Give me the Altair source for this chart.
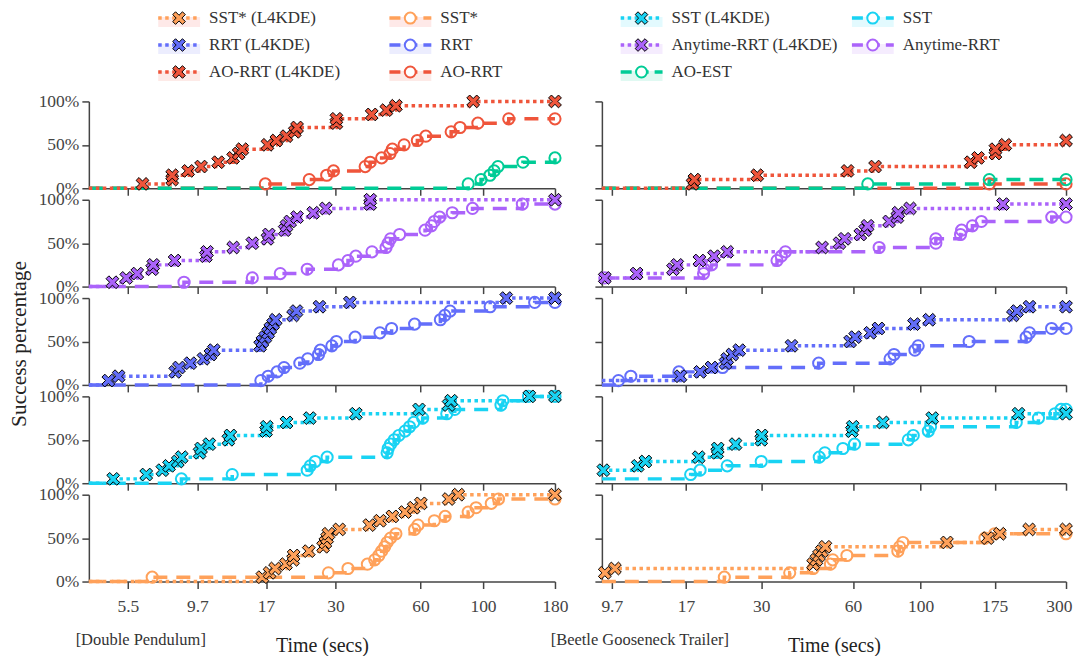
import altair as alt
import pandas as pd

# ---------------- data (values in %, times in seconds) ----------------
LEFT_DOMAIN = [4, 180]
RIGHT_DOMAIN = [9, 300]
LEFT_TICKS = [5.5, 9.7, 17, 30, 60, 100, 180]
RIGHT_TICKS = [9.7, 17, 30, 60, 100, 175, 300]
Y_TICKS = [0, 50, 100]

STEP20 = [5, 10, 15, 20, 25, 30, 35, 40, 45, 50, 55, 60, 65, 70, 75, 80, 85, 90, 95, 100]

# Double Pendulum (left column)
DP_AORRT_L4_T = [6.2, 7.9, 7.9, 9.0, 10.0, 11.5, 13.0, 13.6, 14.0, 17.2, 18.5, 20.1, 21.5, 21.9, 30.2, 30.2, 40.3, 45.4, 49.1, 92.3, 180]
DP_AORRT_L4_V = STEP20 + [100]
DP_AORRT_T = [16.9, 24.2, 27.9, 29.5, 38.2, 39.8, 43.7, 46.8, 47.7, 52.5, 58.5, 62.7, 77.1, 82.9, 95.9, 123.4, 180]
DP_AORRT_V = [5, 10, 15, 20, 25, 30, 35, 40, 45, 50, 55, 60, 65, 70, 75, 80, 80]
DP_AOEST_T = [88.6, 98.4, 105.8, 109.5, 113.0, 138.6, 180]
DP_AOEST_V = [5, 10, 15, 20, 25, 30, 35]
DP_ARRT_L4_T = [4.85, 5.43, 5.94, 6.71, 6.77, 8.06, 10.4, 10.5, 13.0, 15.2, 17.2, 17.4, 19.8, 20.1, 20.7, 21.9, 25.0, 27.7, 39.8, 39.8, 180]
DP_ARRT_L4_V = STEP20 + [100]
DP_ARRT_T = [8.7, 15.2, 19.1, 23.8, 30.7, 33.2, 35.4, 40.4, 45.3, 46.1, 47.0, 50.6, 62.3, 65.6, 67.2, 70.2, 77.8, 91.8, 137.9, 180]
DP_ARRT_V = STEP20[:19] + [95]
DP_RRT_L4_T = [4.69, 5.1, 8.1, 8.35, 9.16, 10.2, 10.8, 11.1, 16.2, 16.5, 16.9, 17.3, 17.6, 18.0, 18.4, 21.2, 21.8, 26.3, 33.7, 120.9, 180]
DP_RRT_L4_V = STEP20 + [100]
DP_RRT_T = [16.3, 17.3, 18.6, 19.7, 22.4, 23.9, 26.1, 26.5, 29.1, 30.2, 35.2, 43.1, 47.4, 57.2, 70.6, 73.2, 76.4, 106, 152.5, 180]
DP_RRT_V = STEP20[:19] + [95]
DP_SST_L4_T = [4.88, 6.39, 7.29, 7.7, 8.27, 8.54, 9.88, 10.0, 10.7, 12.5, 12.7, 17.0, 17.1, 20.1, 24.3, 35.4, 59.3, 75.5, 77.1, 146, 180]
DP_SST_L4_V = STEP20 + [100]
DP_SST_T = [8.52, 12.9, 23.8, 24.4, 25.4, 28.0, 45.7, 46.1, 47.0, 48.4, 50.3, 52.9, 54.9, 56.8, 61.1, 74.4, 79.4, 115.8, 117.6, 145, 180]
DP_SST_V = STEP20 + [100]
DP_SSTS_L4_T = [16.5, 17.5, 18.3, 20.0, 21.2, 21.3, 24.1, 27.1, 27.6, 28.0, 28.3, 30.9, 39.5, 43.1, 47.7, 52.9, 56.8, 60.2, 75.5, 81.7, 180]
DP_SSTS_L4_V = STEP20 + [100]
DP_SSTS_T = [6.71, 28.3, 33.2, 38.9, 41.3, 42.7, 43.7, 44.8, 45.7, 47.0, 49.1, 57.2, 58.8, 67.2, 73.4, 88.6, 94.5, 107, 113.5, 180]
DP_SSTS_V = STEP20[:19] + [95]

# Beetle Gooseneck Trailer (right column)
BG_AORRT_L4_T = [17.85, 18.1, 29.1, 57.6, 70.9, 146, 154.3, 176, 176, 189.6, 300]
BG_AORRT_L4_V = [5, 10, 15, 20, 25, 30, 35, 40, 45, 50, 55]
BG_AORRT_T = [168, 300]
BG_AORRT_V = [5, 5]
BG_AOEST_T = [67.1, 168, 300]
BG_AOEST_V = [5, 10, 10]
BG_ARRT_L4_T = [9.2, 11.7, 15.4, 15.9, 18.8, 21.0, 23.2, 47.5, 54.2, 56.3, 63.4, 65.8, 67.0, 78.8, 83.9, 84.5, 92.3, 186.3, 300]
BG_ARRT_L4_V = [10, 15, 20, 25, 30, 35, 40, 45, 50, 55, 60, 65, 70, 75, 80, 85, 90, 95, 95]
BG_ARRT_T = [9.2, 19.4, 19.5, 20.6, 33.8, 34.9, 36.0, 73.1, 112.2, 112.2, 135.2, 136.3, 147.9, 158.3, 269.4, 300]
BG_ARRT_V = [10, 15, 20, 25, 30, 35, 40, 45, 50, 55, 60, 65, 70, 75, 80, 80]
BG_RRT_L4_T = [16.3, 18.9, 20.6, 22.9, 23.2, 24.1, 25.4, 37.7, 58.7, 61.0, 68.3, 72.7, 95.1, 106.7, 200.8, 207, 227.7, 300]
BG_RRT_L4_V = [10, 15, 20, 25, 30, 35, 40, 45, 50, 55, 60, 65, 70, 75, 80, 85, 90, 90]
BG_RRT_L4_START = 5
BG_RRT_T = [10.2, 11.2, 16.1, 22.4, 46.3, 79.4, 81.8, 95.8, 98.2, 144.3, 222, 227.7, 269, 300]
BG_RRT_V = [5, 10, 15, 20, 25, 30, 35, 40, 45, 50, 55, 60, 65, 65]
BG_SST_L4_T = [9.1, 11.8, 12.5, 18.7, 21.5, 21.6, 24.7, 30.0, 30.1, 59.5, 59.9, 75.2, 109.2, 209.5, 300]
BG_SST_L4_V = [15, 20, 25, 30, 35, 40, 45, 50, 55, 60, 65, 70, 75, 80, 80]
BG_SST_T = [17.6, 18.9, 23.2, 30.0, 46.5, 48.5, 55.6, 60.7, 91.1, 94.6, 106, 107.8, 206, 243.6, 276, 289, 300]
BG_SST_V = [10, 15, 20, 25, 30, 35, 40, 45, 50, 55, 60, 65, 70, 75, 80, 85, 85]
BG_SST_START = 5
BG_SSTS_L4_T = [9.2, 9.93, 44.4, 45.5, 46.4, 47.4, 48.7, 122, 166, 181.9, 227, 300]
BG_SSTS_L4_V = [10, 15, 20, 25, 30, 35, 40, 45, 50, 55, 60, 60]
BG_SSTS_T = [22.7, 37.2, 44.4, 50.6, 51.5, 57.3, 84.2, 85.3, 87.5, 162.6, 175, 300]
BG_SSTS_V = [5, 10, 15, 20, 25, 30, 35, 40, 45, 50, 55, 55]

# ---------------- styling ----------------
C_AORRT = "#EF553B"
C_AOEST = "#00CC96"
C_ARRT = "#AB63FA"
C_RRT = "#636EFA"
C_SST = "#19D3F3"
C_SSTS = "#FFA15A"
AREA_OF = {C_SSTS: "#F8473F"}  # SST* areas are drawn in a pinkish red

FONT = "Liberation Serif"
AX = "#444444"
XPATH = "M-1,-0.55L-0.55,-1L0,-0.45L0.55,-1L1,-0.55L0.45,0L1,0.55L0.55,1L0,0.45L-0.55,1L-1,0.55L-0.45,0Z"
DOT = [3.5, 3.5]
DASH = [14, 9]
AREA_OP = 0.12
PANEL_W_L = 467
PANEL_W_R = 465
PANEL_H = 87
TICK_FS = 17.5


def series(name, kind, color, ts, vs, dmin, start=0):
    acol = AREA_OF.get(color, color)
    rows = [dict(series=name, kind=kind, color=color, acolor=acol, t=dmin, v=start, idx=0, marker=False)]
    for i, (t, v) in enumerate(zip(ts, vs)):
        rows.append(dict(series=name, kind=kind, color=color, acolor=acol, t=t, v=v, idx=i + 1, marker=True))
    return rows


def panel(rows, domain, ticks, bottom, left, ytitle=None, note=None):
    df = pd.DataFrame(rows)
    if bottom:
        xaxis = alt.Axis(
            values=ticks, format="~g", labels=True, grid=False,
            title="Time (secs)", titleFontSize=20, titleFont=FONT, titleColor="#222",
            titleFontWeight="normal", titleY=64, titleBaseline="middle",
            labelPadding=9, labelFlush=not left, labelFlushOffset=6)
    else:
        xaxis = alt.Axis(values=ticks, labels=False, title=None, grid=False)
    yaxis = alt.Axis(
        values=Y_TICKS, labelExpr="datum.value + '%'", labels=left, grid=False,
        title=ytitle, titleFontSize=21.5, titleFont=FONT, titleColor="#222", titleFontWeight="normal",
        titleX=-69, titleY=PANEL_H / 2 + 2, titleAngle=-90, titleBaseline="middle", titleAlign="center",
        labelFlush=False)
    x = alt.X("t:Q", scale=alt.Scale(type="log", domain=domain, nice=False), axis=xaxis)
    y = alt.Y("v:Q", scale=alt.Scale(domain=[0, 100], nice=False), axis=yaxis, stack=None)
    col = alt.Color("color:N", scale=None, legend=None)
    base = alt.Chart(df)
    area = base.mark_area(interpolate="step-after", opacity=AREA_OP).encode(
        x=x, y=y, color=alt.Color("acolor:N", scale=None, legend=None), detail="series:N", order="idx:Q")
    l4line = base.transform_filter("datum.kind == 'l4'").mark_line(
        interpolate="step-after", strokeDash=DOT, strokeWidth=3.5).encode(
        x=x, y=y, color=col, detail="series:N", order="idx:Q")
    bline = base.transform_filter("datum.kind == 'base'").mark_line(
        interpolate="step-after", strokeDash=DASH, strokeWidth=3.5).encode(
        x=x, y=y, color=col, detail="series:N", order="idx:Q")
    circ = base.transform_filter("datum.kind == 'base' && datum.marker").mark_point(
        shape="circle", filled=False, size=125, strokeWidth=2, opacity=1).encode(
        x=x, y=y, color=col)
    xs = base.transform_filter("datum.kind == 'l4' && datum.marker").mark_point(
        shape=XPATH, filled=True, size=165, stroke="black", strokeWidth=1, opacity=1).encode(
        x=x, y=y, fill=alt.Fill("color:N", scale=None, legend=None))
    layers = [area, bline, l4line, circ, xs]
    if note is not None:
        txt = alt.Chart(pd.DataFrame({"label": [note[0]]})).mark_text(
            font=FONT, fontSize=16.5, color="#333", align="center", baseline="middle").encode(
            text="label:N", x=alt.value(note[1]), y=alt.value(146))
        layers.append(txt)
    w = PANEL_W_L if left else PANEL_W_R
    return alt.layer(*layers).properties(width=w, height=PANEL_H)


L, R = LEFT_DOMAIN[0], RIGHT_DOMAIN[0]
left_rows = [
    series("AO-RRT (L4KDE)", "l4", C_AORRT, DP_AORRT_L4_T, DP_AORRT_L4_V, L)
    + series("AO-RRT", "base", C_AORRT, DP_AORRT_T, DP_AORRT_V, L)
    + series("AO-EST", "base", C_AOEST, DP_AOEST_T, DP_AOEST_V, L),
    series("Anytime-RRT (L4KDE)", "l4", C_ARRT, DP_ARRT_L4_T, DP_ARRT_L4_V, L)
    + series("Anytime-RRT", "base", C_ARRT, DP_ARRT_T, DP_ARRT_V, L),
    series("RRT (L4KDE)", "l4", C_RRT, DP_RRT_L4_T, DP_RRT_L4_V, L)
    + series("RRT", "base", C_RRT, DP_RRT_T, DP_RRT_V, L),
    series("SST (L4KDE)", "l4", C_SST, DP_SST_L4_T, DP_SST_L4_V, L)
    + series("SST", "base", C_SST, DP_SST_T, DP_SST_V, L),
    series("SST* (L4KDE)", "l4", C_SSTS, DP_SSTS_L4_T, DP_SSTS_L4_V, L)
    + series("SST*", "base", C_SSTS, DP_SSTS_T, DP_SSTS_V, L),
]
right_rows = [
    series("AO-RRT (L4KDE)", "l4", C_AORRT, BG_AORRT_L4_T, BG_AORRT_L4_V, R)
    + series("AO-RRT", "base", C_AORRT, BG_AORRT_T, BG_AORRT_V, R)
    + series("AO-EST", "base", C_AOEST, BG_AOEST_T, BG_AOEST_V, R),
    series("Anytime-RRT (L4KDE)", "l4", C_ARRT, BG_ARRT_L4_T, BG_ARRT_L4_V, R, 10)
    + series("Anytime-RRT", "base", C_ARRT, BG_ARRT_T, BG_ARRT_V, R, 10),
    series("RRT (L4KDE)", "l4", C_RRT, BG_RRT_L4_T, BG_RRT_L4_V, R, BG_RRT_L4_START)
    + series("RRT", "base", C_RRT, BG_RRT_T, BG_RRT_V, R),
    series("SST (L4KDE)", "l4", C_SST, BG_SST_L4_T, BG_SST_L4_V, R, 15)
    + series("SST", "base", C_SST, BG_SST_T, BG_SST_V, R, BG_SST_START),
    series("SST* (L4KDE)", "l4", C_SSTS, BG_SSTS_L4_T, BG_SSTS_L4_V, R, 10)
    + series("SST*", "base", C_SSTS, BG_SSTS_T, BG_SSTS_V, R),
]

panels = []
for i in range(5):
    bottom = i == 4
    panels.append(panel(
        left_rows[i], LEFT_DOMAIN, LEFT_TICKS, bottom, True,
        ytitle="Success percentage" if i == 2 else None,
        note=("[Double Pendulum]", 52) if bottom else None))
    panels.append(panel(
        right_rows[i], RIGHT_DOMAIN, RIGHT_TICKS, bottom, False,
        note=("[Beetle Gooseneck Trailer]", 38) if bottom else None))

# ---------------- legend ----------------
LEG_LABELS = ["SST* (L4KDE)", "SST*", "SST (L4KDE)", "SST",
              "RRT (L4KDE)", "RRT", "Anytime-RRT (L4KDE)", "Anytime-RRT",
              "AO-RRT (L4KDE)", "AO-RRT", "AO-EST"]
LEG_COLORS = [C_SSTS, C_SSTS, C_SST, C_SST, C_RRT, C_RRT, C_ARRT, C_ARRT, C_AORRT, C_AORRT, C_AOEST]
LEG_KIND = ["l4", "base", "l4", "base", "l4", "base", "l4", "base", "l4", "base", "base"]
LEG_COL = [0, 1, 2, 3, 0, 1, 2, 3, 0, 1, 2]
LEG_ROW = [0, 0, 0, 0, 1, 1, 1, 1, 2, 2, 2]

leg = pd.DataFrame(dict(label=LEG_LABELS, color=LEG_COLORS,
                        acolor=[AREA_OF.get(c, c) for c in LEG_COLORS],
                        kind=LEG_KIND, col=LEG_COL, row=LEG_ROW))
lx = alt.Scale(domain=[0, 3], range=[69.5, 764.5])
ly = alt.Scale(domain=[0, 2], range=[8.5, 62.5])
lbase = alt.Chart(leg).transform_calculate(
    c2="datum.col + 0.181", cm="datum.col + 0.09", ct="datum.col + 0.22")
lcol = alt.Color("color:N", scale=None, legend=None)
LX = alt.X("col:Q", scale=lx, axis=None)
LY = alt.Y("row:Q", scale=ly, axis=None)
patch = lbase.mark_rect(opacity=AREA_OP, yOffset=-1, y2Offset=9).encode(
    x=LX, x2="c2:Q", y=LY, y2="row:Q", color=alt.Color("acolor:N", scale=None, legend=None))
lrule_l4 = lbase.transform_filter("datum.kind == 'l4'").mark_rule(
    strokeWidth=3.5, strokeDash=DOT).encode(x=LX, x2="c2:Q", y=LY, color=lcol)
lrule_b = lbase.transform_filter("datum.kind == 'base'").mark_rule(
    strokeWidth=3.5, strokeDash=[11, 6]).encode(x=LX, x2="c2:Q", y=LY, color=lcol)
lcirc = lbase.transform_filter("datum.kind == 'base'").mark_point(
    shape="circle", filled=True, fill="white", size=120, strokeWidth=2, opacity=1).encode(
    x=alt.X("cm:Q", scale=lx, axis=None), y=LY,
    stroke=alt.Stroke("color:N", scale=None, legend=None))
lx_mark = lbase.transform_filter("datum.kind == 'l4'").mark_point(
    shape=XPATH, filled=True, size=160, stroke="black", strokeWidth=1, opacity=1).encode(
    x=alt.X("cm:Q", scale=lx, axis=None), y=LY,
    fill=alt.Fill("color:N", scale=None, legend=None))
ltext = lbase.mark_text(align="left", baseline="middle", font=FONT, fontSize=17, color="#333").encode(
    x=alt.X("ct:Q", scale=lx, axis=None), y=LY, text="label:N")
legend = alt.layer(patch, lrule_b, lrule_l4, lcirc, lx_mark, ltext).properties(width=980, height=80)

grid = alt.concat(*panels, columns=2, spacing={"row": 11.5, "column": 47}, bounds="flush")

chart = alt.vconcat(legend, grid, spacing=12, bounds="flush").properties(
    padding={"left": 1, "top": 0, "right": 0, "bottom": 0}
).configure_view(stroke=None).configure_axis(
    domainColor=AX, tickColor=AX, labelColor=AX, labelFont=FONT, labelFontSize=TICK_FS,
    tickSize=7, domainWidth=1.5, tickWidth=1.5, labelPadding=3,
).configure_text(font=FONT)

chart.save("out.html", embed_options={"renderer": "svg", "actions": False})
